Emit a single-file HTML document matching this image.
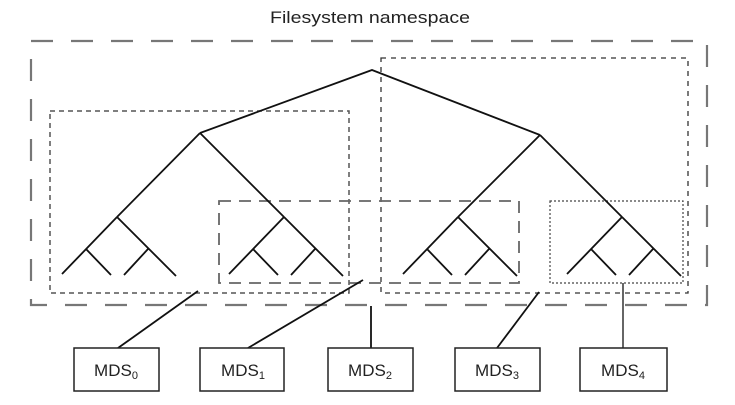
<!DOCTYPE html>
<html><head><style>body{margin:0;background:#fff;}svg{display:block}</style></head>
<body>
<svg width="735" height="405" viewBox="0 0 735 405" xmlns="http://www.w3.org/2000/svg">
<text x="370" y="23" text-anchor="middle" font-family="Liberation Sans, sans-serif" font-size="17" fill="#222" textLength="200" lengthAdjust="spacingAndGlyphs">Filesystem namespace</text>
<rect x="31" y="41" width="676" height="264" fill="none" stroke="#777" stroke-width="2.2" stroke-dasharray="22,18"/>
<rect x="50" y="111" width="299" height="182" fill="none" stroke="#555" stroke-width="1.5" stroke-dasharray="5,4"/>
<rect x="381" y="58" width="307" height="235" fill="none" stroke="#333" stroke-width="1.3" stroke-dasharray="5,5"/>
<rect x="219" y="201" width="300" height="82" fill="none" stroke="#666" stroke-width="1.8" stroke-dasharray="12,8"/>
<rect x="550" y="201" width="133" height="82" fill="none" stroke="#444" stroke-width="1.2" stroke-dasharray="2,2"/>
<g stroke="#111" stroke-width="1.8" fill="none">
<polyline points="200,133 372,70 540,135"/>
<line x1="200" y1="133" x2="117" y2="217"/>
<line x1="200" y1="133" x2="284" y2="217"/>
<line x1="540" y1="135" x2="458" y2="217"/>
<line x1="540" y1="135" x2="622" y2="217"/>
<g id="st">
<path d="M117,217 L62,274 M117,217 L176,276 M86,249 L111,275 M148,249 L124,275"/>
</g>
<use href="#st" x="167"/>
<use href="#st" x="341"/>
<use href="#st" x="505"/>
<line x1="118" y1="348" x2="198" y2="291"/>
<line x1="248" y1="348" x2="363" y2="280"/>
<line x1="371" y1="306" x2="371" y2="348"/>
<line x1="497" y1="348" x2="539" y2="292"/>
<line x1="623" y1="283" x2="623" y2="348" stroke="#555"/>
</g>
<g fill="#fff" stroke="#222" stroke-width="1.5">
<rect x="74" y="348" width="85" height="43"/>
<rect x="200" y="348" width="84" height="43"/>
<rect x="328" y="348" width="85" height="43"/>
<rect x="455" y="348" width="85" height="43"/>
<rect x="580" y="348" width="87" height="43"/>
</g>
<g font-family="Liberation Sans, sans-serif" font-size="17" fill="#222" text-anchor="middle">
<text x="116" y="376">MDS<tspan font-size="11" dy="3">0</tspan></text>
<text x="243" y="376">MDS<tspan font-size="11" dy="3">1</tspan></text>
<text x="370" y="376">MDS<tspan font-size="11" dy="3">2</tspan></text>
<text x="497" y="376">MDS<tspan font-size="11" dy="3">3</tspan></text>
<text x="623" y="376">MDS<tspan font-size="11" dy="3">4</tspan></text>
</g>
</svg>
</body></html>
